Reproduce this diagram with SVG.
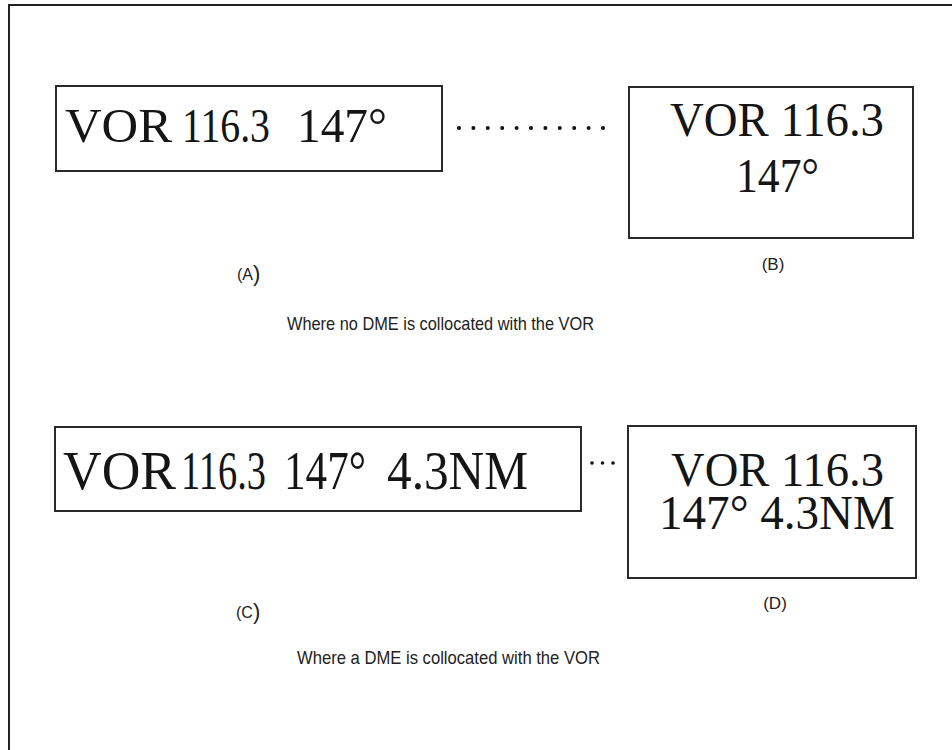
<svg xmlns="http://www.w3.org/2000/svg" width="952" height="750" viewBox="0 0 952 750">
<style>
.frame{fill:none;stroke:#222;stroke-width:2}
.box{fill:#fff;stroke:#2a2a2a;stroke-width:2}
.big{font-family:"Liberation Serif","Times New Roman",serif;fill:#151515}
.lbl{font-family:"Liberation Sans",Arial,sans-serif;fill:#222}
.cap{font-family:"Liberation Sans",Arial,sans-serif;fill:#222;font-size:19px}
.dot{fill:#111}
</style>
<rect width="952" height="750" fill="#fff"/>
<rect class="frame" x="9" y="5" width="970" height="770"/>

<g id="connectors">
  <g id="dots-ab">
    <circle class="dot" cx="459" cy="128" r="2"/>
    <circle class="dot" cx="473.4" cy="128" r="2"/>
    <circle class="dot" cx="487.8" cy="128" r="2"/>
    <circle class="dot" cx="502.2" cy="128" r="2"/>
    <circle class="dot" cx="516.6" cy="128" r="2"/>
    <circle class="dot" cx="531" cy="128" r="2"/>
    <circle class="dot" cx="545.4" cy="128" r="2"/>
    <circle class="dot" cx="559.8" cy="128" r="2"/>
    <circle class="dot" cx="574.2" cy="128" r="2"/>
    <circle class="dot" cx="588.6" cy="128" r="2"/>
    <circle class="dot" cx="603" cy="128" r="2"/>
  </g>
  <g id="dots-cd">
    <circle class="dot" cx="592" cy="463" r="1.8"/>
    <circle class="dot" cx="602.5" cy="463" r="1.8"/>
    <circle class="dot" cx="613" cy="463" r="1.8"/>
  </g>
</g>

<g id="nodeA">
  <rect class="box" x="56" y="86" width="386" height="85"/>
  <text class="big" x="65" y="142" font-size="49" textLength="107" lengthAdjust="spacingAndGlyphs">VOR</text>
  <text class="big" x="182" y="142" font-size="49" textLength="88" lengthAdjust="spacingAndGlyphs">116.3</text>
  <text class="big" x="297" y="142" font-size="49" textLength="90" lengthAdjust="spacingAndGlyphs">147°</text>
</g>

<g id="nodeB">
  <rect class="box" x="629" y="87" width="284" height="151"/>
  <text class="big" x="670" y="136" font-size="49" textLength="214" lengthAdjust="spacingAndGlyphs">VOR 116.3</text>
  <text class="big" x="736" y="192" font-size="49" textLength="83" lengthAdjust="spacingAndGlyphs">147°</text>
</g>

<g id="nodeC">
  <rect class="box" x="55" y="427" width="526" height="84"/>
  <text class="big" x="63" y="489" font-size="54" textLength="113" lengthAdjust="spacingAndGlyphs">VOR</text>
  <text class="big" x="181" y="489" font-size="54" textLength="85" lengthAdjust="spacingAndGlyphs">116.3</text>
  <text class="big" x="284" y="489" font-size="54" textLength="82" lengthAdjust="spacingAndGlyphs">147°</text>
  <text class="big" x="387" y="489" font-size="54" textLength="141" lengthAdjust="spacingAndGlyphs">4.3NM</text>
</g>

<g id="nodeD">
  <rect class="box" x="628" y="426" width="288" height="152"/>
  <text class="big" x="671" y="486" font-size="48" textLength="213" lengthAdjust="spacingAndGlyphs">VOR 116.3</text>
  <text class="big" x="659" y="529" font-size="48" textLength="236" lengthAdjust="spacingAndGlyphs">147° 4.3NM</text>
</g>

<g id="labels">
  <text class="lbl" x="237" y="280" font-size="16">(A<tspan font-size="22" dy="1">)</tspan></text>
  <text class="lbl" x="773" y="270" font-size="17" text-anchor="middle">(B)</text>
  <text class="lbl" x="236" y="618" font-size="16">(C<tspan font-size="22" dy="1">)</tspan></text>
  <text class="lbl" x="775" y="609" font-size="17" text-anchor="middle">(D)</text>
  <text class="cap" x="287" y="330" textLength="307" lengthAdjust="spacingAndGlyphs">Where no DME is collocated with the VOR</text>
  <text class="cap" x="297" y="664" textLength="303" lengthAdjust="spacingAndGlyphs">Where a DME is collocated with the VOR</text>
</g>
</svg>
